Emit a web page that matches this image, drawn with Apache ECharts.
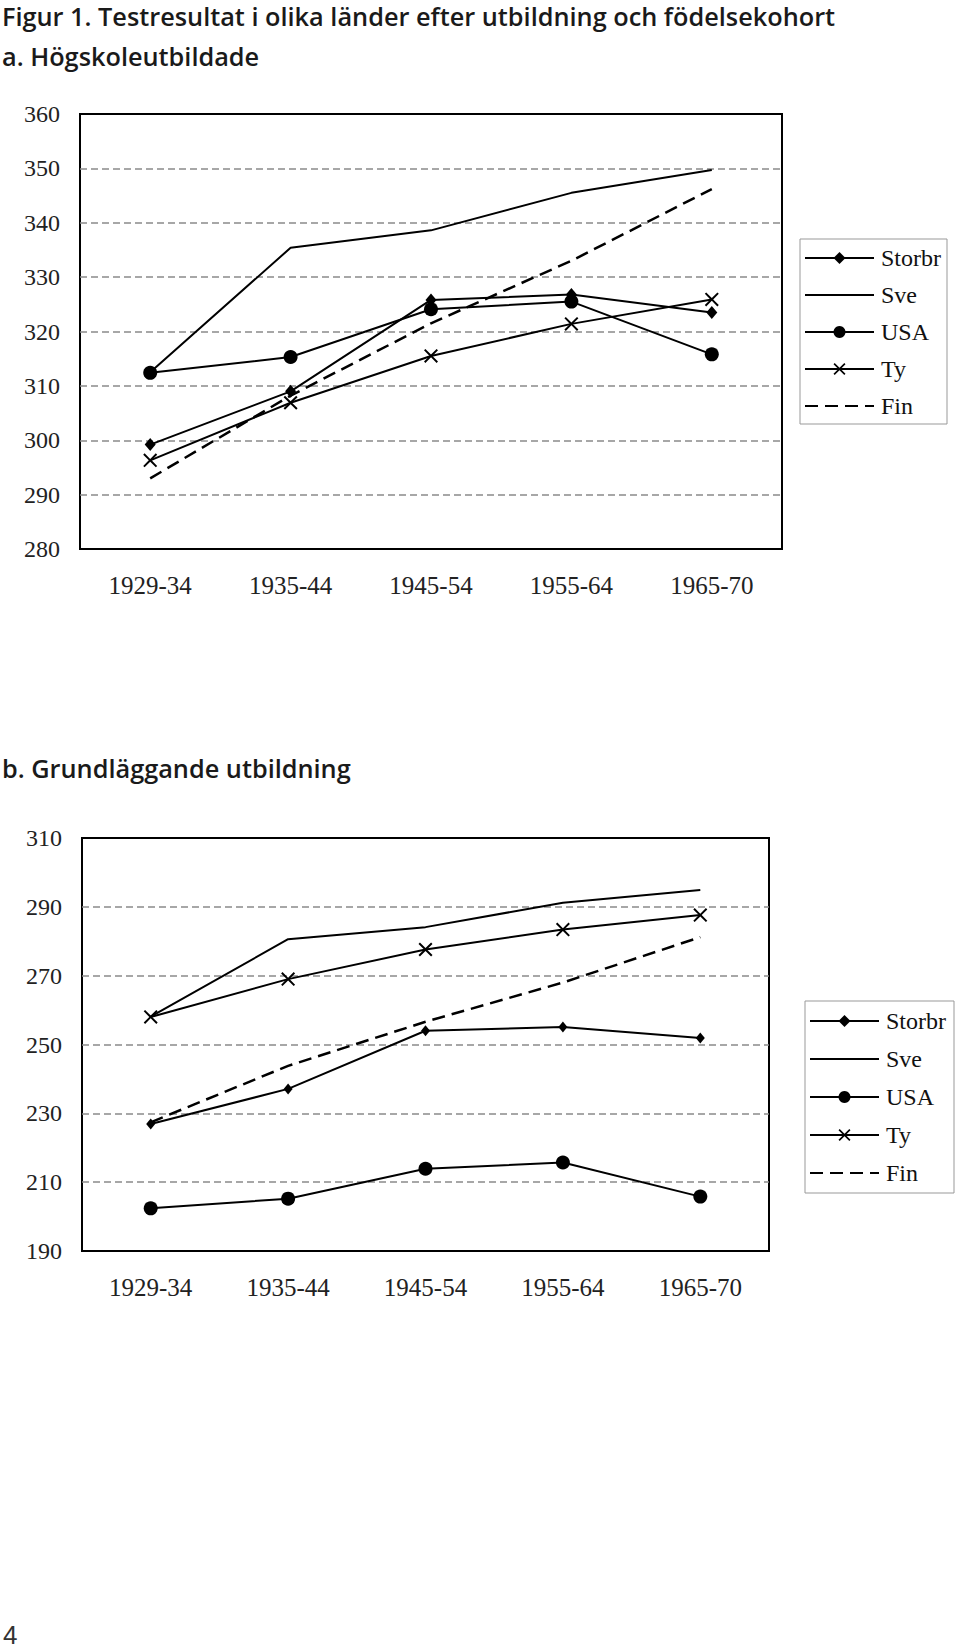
<!DOCTYPE html>
<html>
<head>
<meta charset="utf-8">
<script src="https://cdn.jsdelivr.net/npm/echarts@6/dist/echarts.min.js"></script>
<style>
html,body{margin:0;padding:0;background:#fff;}
#chart{width:960px;height:1652px;}
</style>
</head>
<body>
<div id="chart"></div>
<script>
// ---- data ----
const categories = ['1929-34', '1935-44', '1945-54', '1955-64', '1965-70'];
const seriesNames = ['Storbr', 'Sve', 'USA', 'Ty', 'Fin'];

// a. Högskoleutbildade
const aStorbr = [299.2, 309.0, 325.8, 326.8, 323.5];
const aSve    = [312.5, 335.4, 338.6, 345.5, 349.7];
const aUSA    = [312.4, 315.3, 324.1, 325.5, 315.8];
const aTy     = [296.3, 306.9, 315.5, 321.4, 325.9];
const aFin    = [293.0, 308.2, 321.5, 333.0, 346.2];
const aTicks  = [280, 290, 300, 310, 320, 330, 340, 350, 360];

// b. Grundläggande utbildning
const bStorbr = [226.9, 237.1, 254.0, 255.1, 251.9];
const bSve    = [258.1, 280.6, 284.1, 291.2, 294.9];
const bUSA    = [202.4, 205.2, 213.9, 215.7, 205.8];
const bTy     = [258.0, 269.0, 277.6, 283.4, 287.6];
const bFin    = [227.4, 243.8, 256.6, 268.0, 281.2];
const bTicks  = [190, 210, 230, 250, 270, 290, 310];

const titleMain = 'Figur 1. Testresultat i olika länder efter utbildning och födelsekohort';
const titleA = 'a. Högskoleutbildade';
const titleB = 'b. Grundläggande utbildning';
const pageNo = '4';

// ---- styles ----
const SERIF = '"Liberation Serif", "Times New Roman", serif';
const SANS = '"Open Sans", "Noto Sans", sans-serif';
const X_SYMBOL = 'path://M0,1L1,0L5,4L9,0L10,1L6,5L10,9L9,10L5,6L1,10L0,9L4,5Z';

const seriesStyle = {
  Storbr: { symbol: 'diamond', symbolSize: [11, 13], type: 'solid' },
  Sve:    { symbol: 'none', symbolSize: 0, type: 'solid' },
  USA:    { symbol: 'circle', symbolSize: 14, type: 'solid' },
  Ty:     { symbol: X_SYMBOL, symbolSize: 14, type: 'solid' },
  Fin:    { symbol: 'none', symbolSize: 0, type: [13, 7] }
};

function makeSeries(name, data, gridIdx, smallDiamond) {
  const st = seriesStyle[name];
  let size = st.symbolSize;
  if (smallDiamond && name === 'Storbr') size = [9, 11];
  return {
    name: name,
    type: 'line',
    xAxisIndex: gridIdx,
    yAxisIndex: gridIdx,
    data: data,
    symbol: st.symbol,
    symbolSize: size,
    showSymbol: st.symbol !== 'none',
    itemStyle: { color: '#000' },
    lineStyle: { color: '#000', width: name === 'Fin' ? 2.5 : 2, type: st.type },
    emphasis: { disabled: true },
    silent: true,
    z: 3
  };
}

function yAxisFor(gridIdx, ticks) {
  return {
    type: 'value',
    gridIndex: gridIdx,
    min: ticks[0],
    max: ticks[ticks.length - 1],
    interval: ticks[1] - ticks[0],
    axisLine: { show: false },
    axisTick: { show: false },
    axisLabel: { color: '#222', fontFamily: SERIF, fontSize: 24, margin: 20 },
    splitLine: {
      show: true, showMinLine: false, showMaxLine: false,
      lineStyle: { color: '#8a8a8a', width: 1.5, type: [7, 4] }
    }
  };
}

function xAxisFor(gridIdx) {
  return {
    type: 'category',
    gridIndex: gridIdx,
    data: categories,
    boundaryGap: true,
    axisLine: { show: false },
    axisTick: { show: false },
    splitLine: { show: false },
    axisLabel: { color: '#222', fontFamily: SERIF, fontSize: 25, margin: 24, interval: 0 }
  };
}

function legendFor(left, top, gap, padding) {
  return {
    data: seriesNames.map(n => (n === 'Sve' || n === 'Fin') ? { name: n, itemStyle: { opacity: 0 } } : { name: n }),
    orient: 'vertical',
    left: left,
    top: top,
    itemWidth: 69,
    itemHeight: 15,
    itemGap: gap,
    padding: padding,
    borderColor: '#999',
    borderWidth: 1,
    backgroundColor: '#fff',
    selectedMode: false,
    textStyle: { fontFamily: SERIF, fontSize: 24, color: '#111', padding: [0, 0, 0, 2] }
  };
}

const chart = echarts.init(document.getElementById('chart'), null, { renderer: 'svg' });

const titleStyle = { fontFamily: SANS, fontSize: 25.3, fontWeight: 600, color: '#1a1a1a' };

const option = {
  animation: false,
  backgroundColor: '#fff',
  title: [
    { text: titleMain, left: 2, top: 3, padding: 0, textStyle: titleStyle },
    { text: titleA, left: 2, top: 43, padding: 0, textStyle: titleStyle },
    { text: titleB, left: 2, top: 755, padding: 0, textStyle: titleStyle },
    { text: pageNo, left: 3, top: 1622, padding: 0,
      textStyle: { fontFamily: '"Liberation Sans", sans-serif', fontSize: 26, lineHeight: 26, fontWeight: 'normal', color: '#333' } }
  ],
  grid: [
    { left: 80, top: 114, width: 702, height: 435, show: true, borderColor: '#000', borderWidth: 2,
      backgroundColor: 'transparent', containLabel: false, outerBoundsMode: 'none' },
    { left: 82, top: 838, width: 687, height: 413, show: true, borderColor: '#000', borderWidth: 2,
      backgroundColor: 'transparent', containLabel: false, outerBoundsMode: 'none' }
  ],
  xAxis: [xAxisFor(0), xAxisFor(1)],
  yAxis: [yAxisFor(0, aTicks), yAxisFor(1, bTicks)],
  legend: [
    legendFor(800, 239, 13, [7, 6, 6, 4]),
    legendFor(805, 1001, 14, [8, 8, 8, 4])
  ],
  tooltip: { show: false },
  series: [
    makeSeries('Storbr', aStorbr, 0, false),
    makeSeries('Sve', aSve, 0, false),
    makeSeries('USA', aUSA, 0, false),
    makeSeries('Ty', aTy, 0, false),
    makeSeries('Fin', aFin, 0, false),
    makeSeries('Storbr', bStorbr, 1, true),
    makeSeries('Sve', bSve, 1, true),
    makeSeries('USA', bUSA, 1, true),
    makeSeries('Ty', bTy, 1, true),
    makeSeries('Fin', bFin, 1, true)
  ]
};

chart.setOption(option);
</script>
</body>
</html>
